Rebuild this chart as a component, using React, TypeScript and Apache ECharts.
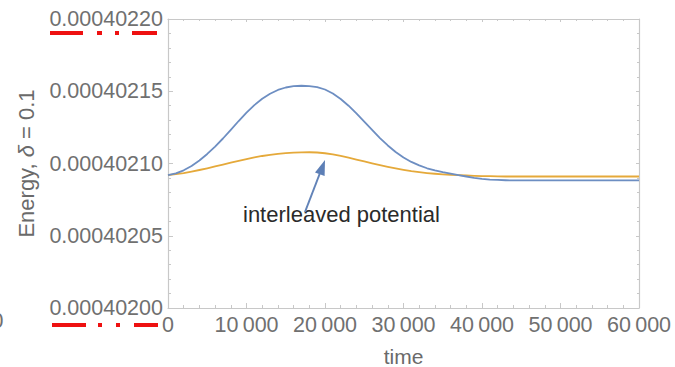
import React, { useEffect, useRef } from "react";
import * as echarts from "echarts";

const timeValues = [
  0, 1000, 2000, 3000, 4000, 5000, 6000, 7000, 8000, 9000, 10000, 11000, 12000,
  13000, 14000, 15000, 16000, 17000, 18000, 19000, 20000, 21000, 22000, 23000,
  24000, 25000, 26000, 27000, 28000, 29000, 30000, 31000, 32000, 33000, 34000,
  35000, 36000, 37000, 38000, 39000, 40000, 41000, 42000, 43000, 44000, 45000,
  46000, 47000, 48000, 49000, 50000, 51000, 52000, 53000, 54000, 55000, 56000,
  57000, 58000, 59000, 60000,
];

const blueEnergy = [
  0.000402092, 0.0004020932, 0.0004020953, 0.0004020983, 0.0004021021,
  0.0004021066, 0.0004021117, 0.0004021173, 0.0004021233, 0.0004021294,
  0.0004021352, 0.0004021404, 0.0004021448, 0.0004021483, 0.0004021509,
  0.0004021526, 0.0004021535, 0.0004021538, 0.0004021536, 0.0004021529,
  0.0004021512, 0.0004021484, 0.0004021446, 0.00040214, 0.0004021347,
  0.000402129, 0.0004021232, 0.0004021176, 0.0004021125, 0.000402108,
  0.0004021042, 0.0004021011, 0.0004020987, 0.0004020967, 0.0004020952,
  0.000402094, 0.000402093, 0.000402092, 0.000402091, 0.0004020901,
  0.0004020894, 0.0004020889, 0.0004020886, 0.0004020884, 0.0004020883,
  0.0004020883, 0.0004020883, 0.0004020883, 0.0004020883, 0.0004020883,
  0.0004020883, 0.0004020883, 0.0004020883, 0.0004020883, 0.0004020883,
  0.0004020883, 0.0004020883, 0.0004020883, 0.0004020883, 0.0004020883,
  0.0004020883,
];

const orangeEnergy = [
  0.000402092, 0.0004020926, 0.0004020934, 0.0004020944, 0.0004020955,
  0.0004020967, 0.000402098, 0.0004020993, 0.0004021006, 0.0004021019,
  0.0004021031, 0.0004021042, 0.0004021052, 0.000402106, 0.0004021067,
  0.0004021072, 0.0004021075, 0.0004021077, 0.0004021078, 0.0004021076,
  0.0004021071, 0.0004021063, 0.0004021052, 0.000402104, 0.0004021027,
  0.0004021014, 0.0004021001, 0.0004020989, 0.0004020977, 0.0004020966,
  0.0004020956, 0.0004020947, 0.000402094, 0.0004020934, 0.0004020929,
  0.0004020925, 0.0004020922, 0.0004020919, 0.0004020917, 0.0004020915,
  0.0004020913, 0.0004020912, 0.0004020911, 0.000402091, 0.000402091,
  0.000402091, 0.000402091, 0.000402091, 0.000402091, 0.000402091,
  0.000402091, 0.000402091, 0.000402091, 0.000402091, 0.000402091,
  0.000402091, 0.000402091, 0.000402091, 0.000402091, 0.000402091,
  0.000402091,
];

const yMin = 0.000402;
const yMax = 0.0004022;
const yStep = 0.00000005;
const xMin = 0;
const xMax = 60000;
const xStep = 10000;

const FONT = "'Liberation Sans', Arial, sans-serif";
const FRAME = "#c8c8c8";
const LABEL = "#707070";

export default function App() {
  const ref = useRef<HTMLDivElement>(null);
  useEffect(() => {
    if (!ref.current) return;
    const chart = echarts.init(ref.current, null, { renderer: "svg" });
    const tickStyle = { show: true, inside: true, length: 5, lineStyle: { color: FRAME, width: 1 } };
    const minorStyle = { show: true, splitNumber: 5, length: 3, lineStyle: { color: FRAME, width: 1 } };
    const fmtTime = (v: number) => String(v).replace(/\B(?=(\d{3})+(?!\d))/g, "\u2009");
    chart.setOption({
      animation: false,
      grid: {
        left: 168,
        right: 36,
        top: 19,
        bottom: 59,
        containLabel: false,
        outerBoundsMode: "none",
      },
      xAxis: [
        {
          type: "value",
          min: xMin,
          max: xMax,
          interval: xStep,
          position: "bottom",
          name: "time",
          nameLocation: "middle",
          nameGap: 38,
          nameTextStyle: { color: "#6a6a6a", fontSize: 21, fontFamily: FONT },
          axisLine: { show: true, onZero: false, lineStyle: { color: FRAME, width: 1.2 } },
          axisTick: tickStyle,
          minorTick: minorStyle,
          splitLine: { show: false },
          axisLabel: { color: LABEL, fontSize: 21.5, fontFamily: FONT, margin: 6, formatter: fmtTime },
        },
        {
          type: "value",
          min: xMin,
          max: xMax,
          interval: xStep,
          position: "top",
          axisLine: { show: true, onZero: false, lineStyle: { color: FRAME, width: 1.2 } },
          axisTick: { ...tickStyle, length: 3 },
          minorTick: { ...minorStyle, length: 2 },
          splitLine: { show: false },
          axisLabel: { show: false },
        },
      ],
      yAxis: [
        {
          type: "value",
          min: yMin,
          max: yMax,
          interval: yStep,
          position: "left",
          name: "Energy, {i|δ} = 0.1",
          nameLocation: "middle",
          nameGap: 131,
          nameTextStyle: {
            color: "#6a6a6a",
            fontSize: 22,
            fontFamily: FONT,
            rich: { i: { fontStyle: "italic", fontSize: 22, fontFamily: FONT, color: "#6a6a6a" } },
          },
          axisLine: { show: true, onZero: false, lineStyle: { color: FRAME, width: 1.2 } },
          axisTick: tickStyle,
          minorTick: minorStyle,
          splitLine: { show: false },
          axisLabel: {
            color: LABEL,
            fontSize: 21.5,
            fontFamily: FONT,
            margin: 5,
            formatter: (v: number) => v.toFixed(8),
          },
        },
        {
          type: "value",
          min: yMin,
          max: yMax,
          interval: yStep,
          position: "right",
          axisLine: { show: true, onZero: false, lineStyle: { color: FRAME, width: 1.2 } },
          axisTick: { ...tickStyle, length: 3 },
          minorTick: { ...minorStyle, length: 2 },
          splitLine: { show: false },
          axisLabel: { show: false },
        },
      ],
      series: [
        {
          type: "line",
          xAxisIndex: 0,
          yAxisIndex: 0,
          showSymbol: false,
          smooth: false,
          data: timeValues.map((t, i) => [t, blueEnergy[i]]),
          lineStyle: { color: "#6d8ec2", width: 1.8, join: "round" },
          itemStyle: { color: "#6d8ec2" },
          z: 3,
        },
        {
          type: "line",
          xAxisIndex: 0,
          yAxisIndex: 0,
          showSymbol: false,
          smooth: false,
          data: timeValues.map((t, i) => [t, orangeEnergy[i]]),
          lineStyle: { color: "#e5a93a", width: 1.8, join: "round" },
          itemStyle: { color: "#e5a93a" },
          z: 2,
        },
      ],
      graphic: [
        {
          type: "text",
          left: 243,
          top: 203,
          style: { text: "interleaved potential", fill: "#2a2a2a", fontSize: 22, fontFamily: FONT },
        },
        {
          type: "line",
          shape: { x1: 305, y1: 212, x2: 320, y2: 173 },
          style: { stroke: "#6283b8", lineWidth: 2 },
        },
        {
          type: "polygon",
          shape: { points: [[325, 160], [324.6, 176], [315, 172.4]] },
          style: { fill: "#5d7fb6" },
        },
        { type: "rect", shape: { x: 50, y: 31, width: 33, height: 4 }, style: { fill: "#ee1111" } },
        { type: "rect", shape: { x: 97, y: 31, width: 5, height: 4 }, style: { fill: "#ee1111" } },
        { type: "rect", shape: { x: 115, y: 31, width: 4, height: 4 }, style: { fill: "#ee1111" } },
        { type: "rect", shape: { x: 132, y: 31, width: 25, height: 4 }, style: { fill: "#ee1111" } },
        { type: "rect", shape: { x: 52, y: 323, width: 34, height: 4 }, style: { fill: "#ee1111" } },
        { type: "rect", shape: { x: 98, y: 323, width: 4, height: 4 }, style: { fill: "#ee1111" } },
        { type: "rect", shape: { x: 116, y: 323, width: 4, height: 4 }, style: { fill: "#ee1111" } },
        { type: "rect", shape: { x: 134, y: 323, width: 24, height: 4 }, style: { fill: "#ee1111" } },
        {
          type: "text",
          x: 3.5,
          y: 321,
          style: { text: "0", fill: LABEL, fontSize: 21.5, fontFamily: FONT, align: "right", verticalAlign: "middle" },
        },
      ],
    });
    return () => chart.dispose();
  }, []);
  return (
    <div
      ref={ref}
      style={{ position: "fixed", left: 0, top: 0, width: 675, height: 367, background: "#fff" }}
    />
  );
}
